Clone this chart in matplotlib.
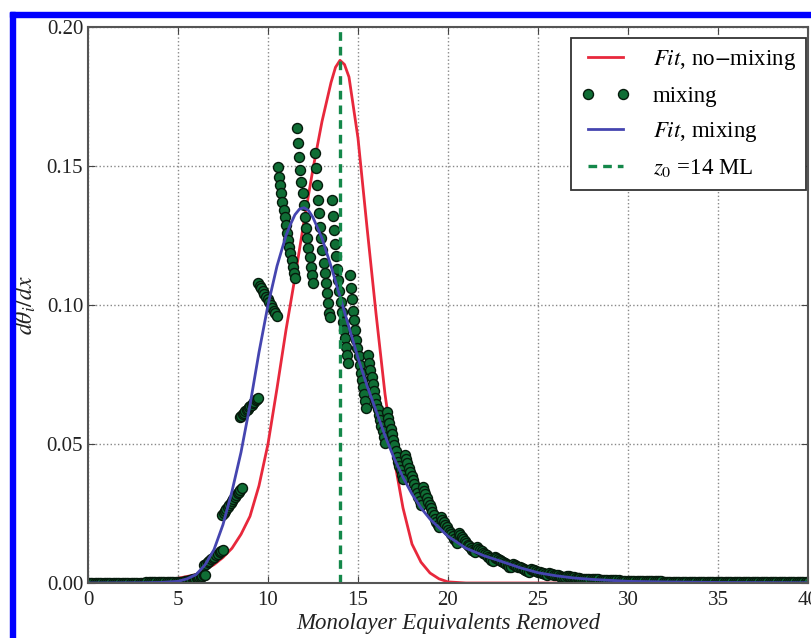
import numpy as np
import matplotlib
matplotlib.use("Agg")
import matplotlib.pyplot as plt
from matplotlib.patches import Rectangle

plt.rcParams['font.family'] = ['Liberation Serif', 'DejaVu Serif']
plt.rcParams['mathtext.fontset'] = 'stix'

# ---- fit, no mixing
x_nomix = [0, 2, 3, 4, 5, 6, 7, 7.5, 8, 8.5, 9, 9.5, 10, 10.5, 11, 11.5, 12, 12.5, 13,
           13.5, 13.75, 14, 14.25, 14.5, 15, 15.5, 16, 16.5, 17, 17.5, 18, 18.5, 19,
           19.5, 20, 21, 30, 40]
y_nomix = [0, 0.0001, 0.0002, 0.0006, 0.0017, 0.0030, 0.0066, 0.0092, 0.0125, 0.0175,
           0.024, 0.035, 0.050, 0.070, 0.091, 0.110, 0.130, 0.149, 0.166, 0.180, 0.1855,
           0.188, 0.1865, 0.182, 0.160, 0.128, 0.097, 0.068, 0.045, 0.027, 0.014, 0.0075,
           0.0036, 0.0015, 0.0004, 0, 0, 0]

# ---- fit, mixing (blue curve)
x_fitmix = [0, 3, 4, 5, 5.5, 6, 6.5, 7, 7.5, 8, 8.5, 9, 9.5, 10, 10.5, 11, 11.25, 11.5,
            11.75, 12, 12.25, 12.5, 13, 13.5, 14, 14.5, 15, 15.5, 16, 16.5, 17, 17.5, 18,
            18.5, 19, 20, 21, 22, 23, 24, 25, 26, 27, 28, 30, 32, 35, 40]
y_fitmix = [0, 0.0001, 0.0002, 0.0006, 0.0015, 0.003, 0.0065, 0.012, 0.021, 0.033,
            0.047, 0.064, 0.083, 0.100, 0.114, 0.125, 0.129, 0.1325, 0.1345, 0.135,
            0.134, 0.1315, 0.124, 0.114, 0.103, 0.092, 0.081, 0.071, 0.062, 0.053,
            0.045, 0.038, 0.032, 0.027, 0.023, 0.0168, 0.0125, 0.0098, 0.0077, 0.0055,
            0.0037, 0.0026, 0.0018, 0.0013, 0.0006, 0.0004, 0.0002, 0.0001]

# ---- mixing data: one run of points per removed layer (y in units of 1e-3)
mix_x0 = [0.0, 5.5, 6.45, 7.45, 8.45, 9.45, 10.55, 11.6, 12.6, 13.55, 14.55, 15.55,
          16.6, 17.6, 18.6, 19.6, 20.6, 21.6, 22.6, 23.6, 24.6, 25.6, 26.6, 27.6]
mix_x1 = [5.5, 6.5, 7.5, 8.55, 9.45, 10.5, 11.5, 12.5, 13.45, 14.45, 15.45, 16.5,
          17.5, 18.5, 19.5, 20.5, 21.5, 22.5, 23.5, 24.5, 25.5, 26.5, 27.5, 40.0]
mix_y = [
    [0.1, 0.1, 0.1, 0.1, 0.1, 0.1, 0.1, 0.1, 0.1, 0.1,
     0.1, 0.1, 0.1, 0.1, 0.1, 0.1, 0.1, 0.1, 0.1, 0.1,
     0.1, 0.1, 0.1, 0.1, 0.1, 0.1, 0.2, 0.2, 0.2, 0.2,
     0.2, 0.2, 0.2, 0.2, 0.3, 0.3, 0.3, 0.3, 0.4, 0.4,
     0.4, 0.5, 0.5, 0.6, 0.7],
    [0.8, 0.9, 1.0, 1.1, 1.3, 1.4, 1.6, 1.7, 1.9, 2.1, 2.3, 2.5, 2.7, 2.9],
    [6.5, 7.0, 7.5, 8.0, 8.5, 9.0, 9.5, 10.0, 10.5, 11.0, 11.5, 11.9],
    [24.5, 25.2, 25.9, 26.6, 27.3, 28.0, 28.7, 29.4, 30.1, 30.8, 31.5, 32.2, 32.9, 33.6, 34.2],
    [59.7, 60.2, 60.7, 61.2, 61.7, 62.2, 62.7, 63.2, 63.7, 64.2, 64.7, 65.2, 65.7, 66.2, 66.5],
    [108, 107, 106, 105, 104, 103, 102, 101, 100, 99, 98, 97, 96],
    [149.8, 146.2, 143.2, 140.2, 137.2, 134.2, 131.8, 128.8, 125.8, 123.4, 121.0, 118.6,
     116.2, 113.8, 111.4, 109.6],
    [163.6, 158.2, 153.4, 148.6, 144.4, 140.2, 136.0, 131.8, 127.6, 124.0, 120.4, 117.4,
     113.8, 110.8, 107.8],
    [154.6, 149.2, 143.2, 137.8, 133.0, 128.2, 124.0, 119.8, 115.0, 111.4, 107.8, 104.2,
     100.6, 97.0, 95.7],
    [137.8, 132, 127, 122, 117.5, 113, 109, 105, 101, 97.5, 94, 91, 88, 85, 82, 79],
    [110.8, 106, 102, 98, 94.5, 91, 87.5, 84.5, 81.5, 78.5, 75.5, 73, 70.5, 68, 65.5, 63],
    [82, 79, 76.5, 74, 71.5, 69, 66.5, 64.5, 62.5, 60.5, 58.5, 56.5, 54.5, 52.5, 50.5],
    [61.5, 59.5, 57.5, 55.5, 53.5, 51.5, 49.5, 47.5, 45.5, 43.5, 42, 40.5, 39, 37.5],
    [46, 44.5, 43, 41.5, 40, 38.5, 37, 35.5, 34, 32.5, 31, 29.5, 28],
    [34.5, 33.2, 31.9, 30.6, 29.3, 28, 26.8, 25.6, 24.4, 23.2, 22, 21, 20],
    [23.7, 22.8, 21.9, 21, 20.1, 19.2, 18.4, 17.6, 16.8, 16, 15.2, 14.5],
    [18, 17.3, 16.6, 15.9, 15.2, 14.5, 13.8, 13.2, 12.6, 12, 11.5, 11],
    [12.9, 12.4, 11.9, 11.4, 10.9, 10.4, 9.9, 9.4, 8.9, 8.4, 7.9],
    [9.5, 9.1, 8.7, 8.3, 7.9, 7.5, 7.1, 6.7, 6.3, 5.9, 5.6],
    [6.8, 6.5, 6.2, 5.9, 5.6, 5.3, 5.0, 4.7, 4.4, 4.1],
    [4.9, 4.7, 4.5, 4.3, 4.1, 3.9, 3.7, 3.5, 3.2, 3.0],
    [3.5, 3.3, 3.2, 3.0, 2.8, 2.7, 2.5, 2.3, 2.2, 2.1],
    [2.5, 2.4, 2.3, 2.2, 2.0, 1.9, 1.8, 1.7, 1.6, 1.5],
    [1.5, 1.5, 1.4, 1.4, 1.3, 1.3, 1.3, 1.2, 1.2, 1.2,
     1.1, 1.1, 1.1, 1.0, 1.0, 1.0, 0.9, 0.9, 0.9, 0.9,
     0.8, 0.8, 0.8, 0.8, 0.7, 0.7, 0.7, 0.7, 0.7, 0.6,
     0.6, 0.6, 0.6, 0.6, 0.6, 0.5, 0.5, 0.5, 0.5, 0.5,
     0.5, 0.5, 0.4, 0.4, 0.4, 0.4, 0.4, 0.4, 0.4, 0.4,
     0.4, 0.3, 0.3, 0.3, 0.3, 0.3, 0.3, 0.3, 0.3, 0.3,
     0.3, 0.3, 0.3, 0.3, 0.3, 0.3, 0.2, 0.2, 0.2, 0.2,
     0.2, 0.2, 0.2, 0.2, 0.2, 0.2, 0.2, 0.2, 0.2, 0.2,
     0.2, 0.2, 0.2, 0.2, 0.2, 0.2, 0.2, 0.2, 0.2, 0.2,
     0.2, 0.2, 0.2, 0.2, 0.2, 0.2, 0.2, 0.2, 0.2, 0.2],
]

z0 = 14

mx = []
my = []
for a, b, ys in zip(mix_x0, mix_x1, mix_y):
    mx.extend(np.linspace(a, b, len(ys)))
    my.extend(np.array(ys) * 1e-3)

fig = plt.figure(figsize=(8.11, 6.38), dpi=100)
ax = fig.add_axes([0.1085, 0.0862, 0.8878, 0.8715])

ax.plot(x_nomix, y_nomix, color='#e8283c', lw=2.0, label=r'$\mathit{Fit}$, no$-$mixing')
ax.plot(mx, my, 'o', color='#0f6e35', mec='#061a0c', mew=1.0, ms=7.2, label='mixing')
ax.plot(x_fitmix, y_fitmix, color='#4545b0', lw=2.0, label=r'$\mathit{Fit}$, mixing')
ax.axvline(z0, color='#14884a', lw=2.4, ls='--', dashes=(2.6, 1.8), label=r'$z_0$ =14 ML')

ax.set_xlim(0, 40)
ax.set_ylim(0, 0.20)
ax.set_xticks(np.arange(0, 41, 5))
ax.set_yticks([0.0, 0.05, 0.10, 0.15, 0.20])
ax.set_yticklabels(['0.00', '0.05', '0.10', '0.15', '0.20'])
ax.grid(True, linestyle=':', color='#888888', lw=1.0)
ax.tick_params(direction='in', top=True, right=True, labelsize=15, length=5,
               color='#444444', labelcolor='#222222')
ax.tick_params(axis='x', pad=6)
for s in ax.spines.values():
    s.set_color('#555555')
    s.set_linewidth(1.5)

ax.set_xlabel('Monolayer Equivalents Removed', fontsize=16.5, style='italic',
              color='#222222', labelpad=2)
ax.set_ylabel(r'$d\theta_i/dx$', fontsize=17, color='#222222', labelpad=6)

leg = ax.legend(loc='upper right', bbox_to_anchor=(0.9972, 0.980), borderaxespad=0,
                numpoints=2, fancybox=False, edgecolor='#333333', framealpha=1,
                fontsize=16.5, handlelength=2.1, handletextpad=1.0, labelspacing=0.58,
                borderpad=0.45)
leg.get_frame().set_linewidth(1.3)

# blue frame around the figure crop
fig.patches.append(Rectangle((10 / 811, 0), 5 / 811, 1 - 12 / 638, transform=fig.transFigure,
                             color='#0000ff', zorder=10))
fig.patches.append(Rectangle((10 / 811, 1 - 17 / 638), 1, 5 / 638, transform=fig.transFigure,
                             color='#0000ff', zorder=10))

fig.savefig('out.png', dpi=100)
